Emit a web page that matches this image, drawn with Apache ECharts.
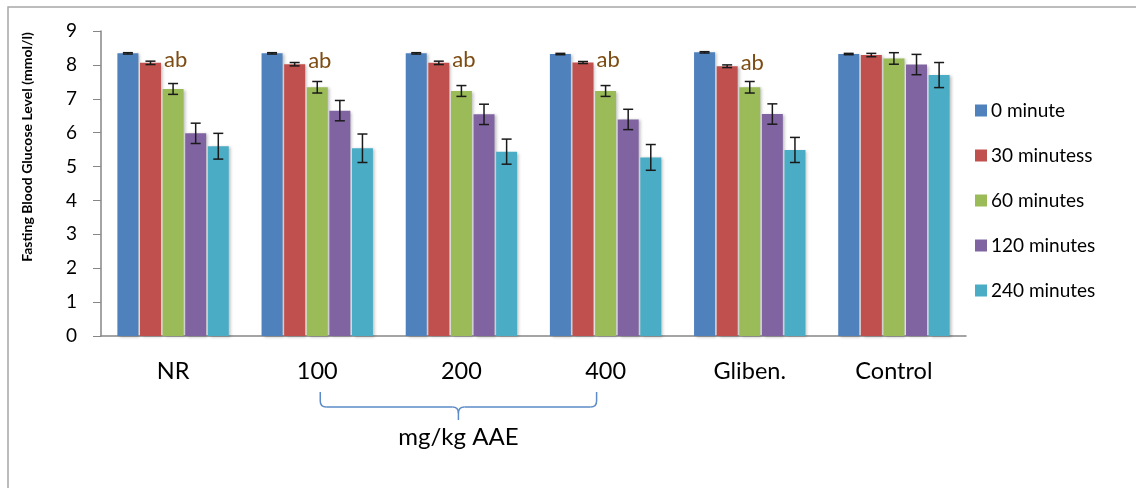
<!DOCTYPE html>
<html>
<head>
<meta charset="utf-8">
<script src="https://cdn.jsdelivr.net/npm/echarts@6/dist/echarts.min.js"></script>
<style>
html,body{margin:0;padding:0;background:#fff;}
#chart{width:1136px;height:488px;}
</style>
</head>
<body>
<div id="chart"></div>
<script>
// ---- data ----
var categories = ['NR', '100', '200', '400', 'Gliben.', 'Control'];
var seriesNames = ['0 minute', '30 minutess', '60 minutes', '120 minutes', '240 minutes'];
var min0   = [8.34, 8.34, 8.34, 8.32, 8.37, 8.32];
var min30  = [8.06, 8.02, 8.06, 8.07, 7.96, 8.29];
var min60  = [7.29, 7.34, 7.23, 7.23, 7.34, 8.19];
var min120 = [5.98, 6.65, 6.54, 6.39, 6.55, 8.01];
var min240 = [5.60, 5.54, 5.44, 5.27, 5.49, 7.70];
var err0   = [0.02, 0.02, 0.02, 0.02, 0.02, 0.02];
var err30  = [0.05, 0.05, 0.05, 0.03, 0.04, 0.05];
var err60  = [0.16, 0.17, 0.16, 0.16, 0.17, 0.17];
var err120 = [0.30, 0.30, 0.30, 0.30, 0.30, 0.30];
var err240 = [0.38, 0.42, 0.37, 0.38, 0.37, 0.37];
var annotations = ['ab', 'ab', 'ab', 'ab', 'ab', ''];
var yTicks = [0, 1, 2, 3, 4, 5, 6, 7, 8, 9];
var groupLabel = 'mg/kg AAE';
var yTitle = 'Fasting Blood Glucose Level (mmol/l)';

// ---- styles ----
var colors = ['#4f81bd', '#c0504d', '#9bbb59', '#8064a2', '#4bacc6'];
var FONT = 'Lato';
var BAR_W = 21;
var BAR_STEP = 22.6;

var values = [min0, min30, min60, min120, min240];
var errors = [err0, err30, err60, err120, err240];

var chart = echarts.init(document.getElementById('chart'), null, {renderer: 'canvas'});

var series = [];
values.forEach(function (vals, si) {
  var s = {
    name: seriesNames[si],
    type: 'bar',
    data: vals,
    barWidth: BAR_W,
    barGap: '7.6%',
    itemStyle: {
      color: colors[si],
      shadowColor: 'rgba(0,0,0,0.25)',
      shadowBlur: 3,
      shadowOffsetX: 2,
      shadowOffsetY: 1
    },
    emphasis: {disabled: true},
    z: 2
  };
  if (si === 1) {
    s.label = {
      show: true,
      position: ['100%', 0],
      align: 'left',
      verticalAlign: 'middle',
      offset: [3, -3],
      fontFamily: FONT,
      fontSize: 22,
      color: '#7d4c12',
      formatter: function (p) { return annotations[p.dataIndex]; }
    };
  }
  series.push(s);
});

// error bars
values.forEach(function (vals, si) {
  var data = vals.map(function (v, i) { return [i, v - errors[si][i], v + errors[si][i]]; });
  series.push({
    type: 'custom',
    name: seriesNames[si] + ' err',
    data: data,
    z: 5,
    silent: true,
    encode: {x: 0, y: [1, 2]},
    renderItem: function (params, api) {
      var c = api.coord([api.value(0), api.value(1)]);
      var h = api.coord([api.value(0), api.value(2)]);
      var x = c[0] + (si - 2) * BAR_STEP;
      var cap = 5;
      var st = {stroke: '#1a1a1a', lineWidth: 1.5};
      return {
        type: 'group',
        children: [
          {type: 'line', shape: {x1: x, y1: c[1], x2: x, y2: h[1]}, style: st},
          {type: 'line', shape: {x1: x - cap, y1: c[1], x2: x + cap, y2: c[1]}, style: st},
          {type: 'line', shape: {x1: x - cap, y1: h[1], x2: x + cap, y2: h[1]}, style: st}
        ]
      };
    }
  });
});

var option = {
  animation: false,
  backgroundColor: '#fff',
  color: colors,
  grid: {left: 101, right: 170, top: 31, bottom: 152, containLabel: false},
  legend: {
    orient: 'vertical',
    left: 970,
    top: 96,
    itemGap: 26,
    itemWidth: 12,
    itemHeight: 12,
    icon: 'rect',
    data: seriesNames,
    textStyle: {fontFamily: FONT, fontSize: 19, color: '#000', padding: [0, 0, 0, -1]},
    selectedMode: false
  },
  xAxis: {
    type: 'category',
    data: categories,
    axisLine: {lineStyle: {color: '#868686', width: 1.5}},
    axisTick: {show: false},
    axisLabel: {fontFamily: FONT, fontSize: 23.5, color: '#000', margin: 23}
  },
  yAxis: {
    type: 'value',
    min: 0,
    max: 9,
    interval: 1,
    splitLine: {show: false},
    axisLine: {show: true, lineStyle: {color: '#868686', width: 1.5}},
    axisTick: {show: true, length: 8, lineStyle: {color: '#868686'}},
    axisLabel: {
      fontFamily: FONT, fontSize: 19, color: '#000', margin: 24,
      formatter: function (v) { return yTicks.indexOf(v) >= 0 ? String(v) : ''; }
    }
  },
  series: series
};
chart.setOption(option);

// annotations: bracket, group label, y title, frame
var p100 = chart.convertToPixel({xAxisIndex: 0}, categories[1]);
var p400 = chart.convertToPixel({xAxisIndex: 0}, categories[3]);
var y0 = chart.convertToPixel({yAxisIndex: 0}, 0);
var L = p100 + 3, R = p400 - 9, M = (L + R) / 2;
var yTop = y0 + 56, yMid = y0 + 71, yTip = y0 + 84;
var r = 6;
var bst = {fill: 'none', stroke: '#5b8bc8', lineWidth: 1.5};
var bracket = [
  {type: 'line', shape: {x1: L, y1: yTop, x2: L, y2: yMid - r}, style: bst},
  {type: 'bezierCurve', shape: {x1: L, y1: yMid - r, cpx1: L, cpy1: yMid, x2: L + r, y2: yMid}, style: bst},
  {type: 'line', shape: {x1: L + r, y1: yMid, x2: M - r, y2: yMid}, style: bst},
  {type: 'bezierCurve', shape: {x1: M - r, y1: yMid, cpx1: M, cpy1: yMid, x2: M, y2: yMid + r}, style: bst},
  {type: 'line', shape: {x1: M, y1: yMid + r, x2: M, y2: yTip}, style: bst},
  {type: 'bezierCurve', shape: {x1: M + r, y1: yMid, cpx1: M, cpy1: yMid, x2: M, y2: yMid + r}, style: bst},
  {type: 'line', shape: {x1: M + r, y1: yMid, x2: R - r, y2: yMid}, style: bst},
  {type: 'bezierCurve', shape: {x1: R - r, y1: yMid, cpx1: R, cpy1: yMid, x2: R, y2: yMid - r}, style: bst},
  {type: 'line', shape: {x1: R, y1: yMid - r, x2: R, y2: yTop}, style: bst}
];

chart.setOption({
  graphic: [
    {type: 'rect', shape: {x: 8, y: 7, width: 1300, height: 700}, style: {fill: 'none', stroke: '#a6a6a6', lineWidth: 1.5}, silent: true},
    {type: 'group', silent: true, children: bracket},
    {type: 'text', x: M, y: y0 + 101, style: {text: groupLabel, fontFamily: FONT, fontSize: 24, fill: '#000', align: 'center', verticalAlign: 'middle'}},
    {type: 'text', x: 27, y: 147, rotation: Math.PI / 2, style: {text: yTitle, fontFamily: FONT, fontSize: 14, fontWeight: 'bold', fill: '#000', align: 'center', verticalAlign: 'middle'}}
  ]
});
</script>
</body>
</html>
